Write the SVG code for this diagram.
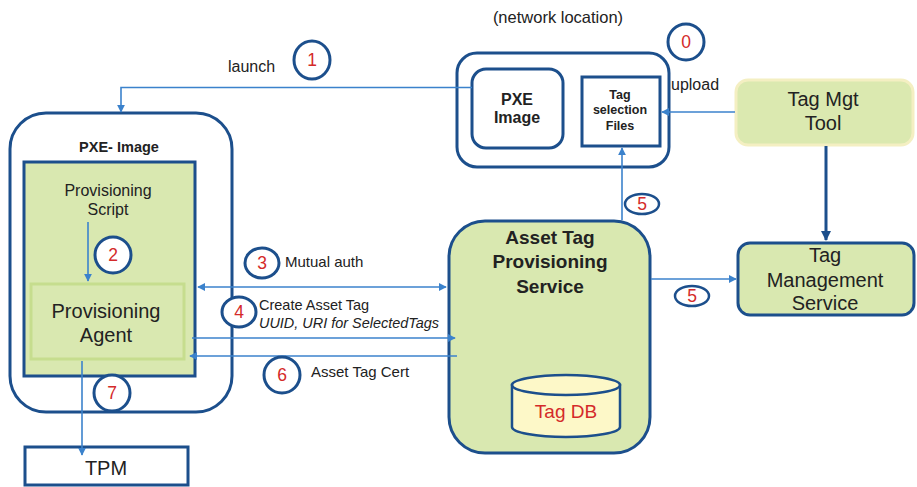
<svg xmlns="http://www.w3.org/2000/svg" width="917" height="487" viewBox="0 0 917 487">
<style>
text{font-family:"Liberation Sans",Arial,sans-serif;fill:#222}
.box{stroke:#1c4f8c;stroke-width:3}
.conn{stroke:#3b82cc;stroke-width:1.6;fill:none}
.num{stroke:#1c4f8c;stroke-width:3;fill:#fff}
.numt{fill:#d42a2a;font-size:17.5px;text-anchor:middle}
.c{text-anchor:middle}
.b{font-weight:bold}
</style>
<defs>
<marker id="ah" viewBox="0 0 10 10" refX="9" refY="5" markerWidth="5" markerHeight="5" orient="auto-start-reverse"><path d="M0,0 L10,5 L0,10 z" fill="#3b82cc"/></marker>
<marker id="ahd" viewBox="0 0 10 10" refX="9" refY="5" markerWidth="3.5" markerHeight="3.5" orient="auto"><path d="M0,0 L10,5 L0,10 z" fill="#1c4f8c"/></marker>
</defs>
<rect width="917" height="487" fill="#fff"/>

<text x="558" y="23" class="c" style="font-size:16.5px">(network location)</text>

<g id="network-location">
<rect x="457" y="53" width="212" height="114" rx="20" fill="#fff" class="box"/>
</g>
<g id="pxe-image-file">
<rect x="472" y="69" width="91" height="79" rx="14" fill="#fff" class="box"/>
<text x="517" y="105" class="c b" style="font-size:16px">PXE</text>
<text x="517" y="123" class="c b" style="font-size:16px">Image</text>
</g>
<g id="tag-selection-files">
<rect x="582" y="77" width="78" height="69" fill="#fff" class="box"/>
<text x="620" y="99" class="c b" style="font-size:12.5px">Tag</text>
<text x="620" y="114" class="c b" style="font-size:12.5px">selection</text>
<text x="620" y="130" class="c b" style="font-size:12.5px">Files</text>
</g>
<g id="tag-mgt-tool">
<rect x="736" y="80" width="177" height="65" rx="12" fill="#dbe9b0" stroke="#f4efc2" stroke-width="3"/>
<text x="823" y="106" class="c" style="font-size:20px">Tag Mgt</text>
<text x="823" y="130" class="c" style="font-size:20px">Tool</text>
</g>
<g id="pxe-image">
<rect x="10" y="113" width="222" height="299" rx="36" fill="#fff" class="box"/>
<text x="119" y="152" class="c b" style="font-size:14.5px">PXE- Image</text>
<rect x="24" y="162" width="171" height="214" fill="#d9e8b0" class="box"/>
<text x="108" y="196" class="c" style="font-size:16px">Provisioning</text>
<text x="108" y="215" class="c" style="font-size:16px">Script</text>
</g>
<g id="provisioning-agent">
<rect x="31" y="284" width="153" height="75" fill="#d9e8b0" stroke="#c6dd8e" stroke-width="3"/>
<text x="106" y="318" class="c" style="font-size:20px">Provisioning</text>
<text x="106" y="342" class="c" style="font-size:20px">Agent</text>
</g>
<g id="tpm">
<rect x="25" y="447" width="163" height="38" fill="#fff" class="box"/>
<text x="106" y="475" class="c" style="font-size:20px">TPM</text>
</g>
<g id="asset-tag-provisioning-service">
<rect x="449" y="221" width="201" height="232" rx="36" fill="#d9e8b0" class="box"/>
<text x="550" y="244" class="c b" style="font-size:19px">Asset Tag</text>
<text x="550" y="268" class="c b" style="font-size:19px">Provisioning</text>
<text x="550" y="293" class="c b" style="font-size:19px">Service</text>
</g>
<g id="tag-db">
<path d="M512,385 L512,427 A54,10 0 0 0 620,427 L620,385 Z" fill="#fdf8c8" stroke="#1c4f8c" stroke-width="2.5"/>
<ellipse cx="566" cy="385" rx="54" ry="10" fill="#fdf8c8" stroke="#1c4f8c" stroke-width="2.5"/>
<text x="566" y="418" class="c" style="font-size:19px;fill:#d42a2a">Tag DB</text>
</g>
<g id="tag-management-service">
<rect x="738" y="243" width="176" height="72" rx="12" fill="#d9e8b0" class="box"/>
<text x="825" y="262" class="c" style="font-size:20px">Tag</text>
<text x="825" y="287" class="c" style="font-size:20px">Management</text>
<text x="825" y="310" class="c" style="font-size:20px">Service</text>
</g>

<g id="connectors">
<path class="conn" d="M472,87.5 L121,87.5 L121,112" marker-end="url(#ah)"/>
<path class="conn" d="M735,112 L662,112" marker-end="url(#ah)"/>
<path d="M826,146 L826,240" stroke="#1c4f8c" stroke-width="3" fill="none" marker-end="url(#ahd)"/>
<path class="conn" d="M622,220 L622,148" marker-end="url(#ah)"/>
<path class="conn" d="M651,279 L736,279" marker-end="url(#ah)"/>
<path class="conn" d="M88,222 L88,281" marker-end="url(#ah)"/>
<path class="conn" d="M198,287 L446,287" marker-start="url(#ah)" marker-end="url(#ah)"/>
<path class="conn" d="M192,338 L455,338" marker-end="url(#ah)"/>
<path class="conn" d="M457,356 L190,356" marker-end="url(#ah)"/>
<path class="conn" d="M82,361 L82,455" marker-end="url(#ah)"/>
</g>

<g id="labels">
<text x="228" y="72" style="font-size:16px">launch</text>
<text x="671" y="90" style="font-size:16px">upload</text>
<text x="285" y="267" style="font-size:15px">Mutual auth</text>
<text x="259" y="310" style="font-size:14.5px">Create Asset Tag</text>
<text x="259" y="328" style="font-size:14px;font-style:italic" textLength="180" lengthAdjust="spacingAndGlyphs">UUID, URI for SelectedTags</text>
<text x="311" y="377" style="font-size:15px">Asset Tag Cert</text>
</g>

<g id="step-markers">
<ellipse cx="686" cy="42" rx="18" ry="18" class="num"/><text x="686" y="48" class="numt">0</text>
<ellipse cx="312" cy="60" rx="18" ry="19" class="num"/><text x="312" y="66" class="numt">1</text>
<ellipse cx="113" cy="255" rx="18" ry="18" class="num"/><text x="113" y="261" class="numt">2</text>
<ellipse cx="262" cy="263" rx="17" ry="15" class="num"/><text x="262" y="269" class="numt">3</text>
<ellipse cx="239" cy="312" rx="17" ry="15" class="num"/><text x="239" y="318" class="numt">4</text>
<ellipse cx="642" cy="204" rx="17" ry="10" class="num" style="stroke-width:2.5"/><text x="642" y="210" class="numt">5</text>
<ellipse cx="692" cy="296" rx="17" ry="10" class="num" style="stroke-width:2.5"/><text x="692" y="302" class="numt">5</text>
<ellipse cx="282" cy="375" rx="18" ry="18" class="num"/><text x="282" y="381" class="numt">6</text>
<ellipse cx="112" cy="393" rx="18" ry="18" class="num"/><text x="112" y="399" class="numt">7</text>
</g>
</svg>
